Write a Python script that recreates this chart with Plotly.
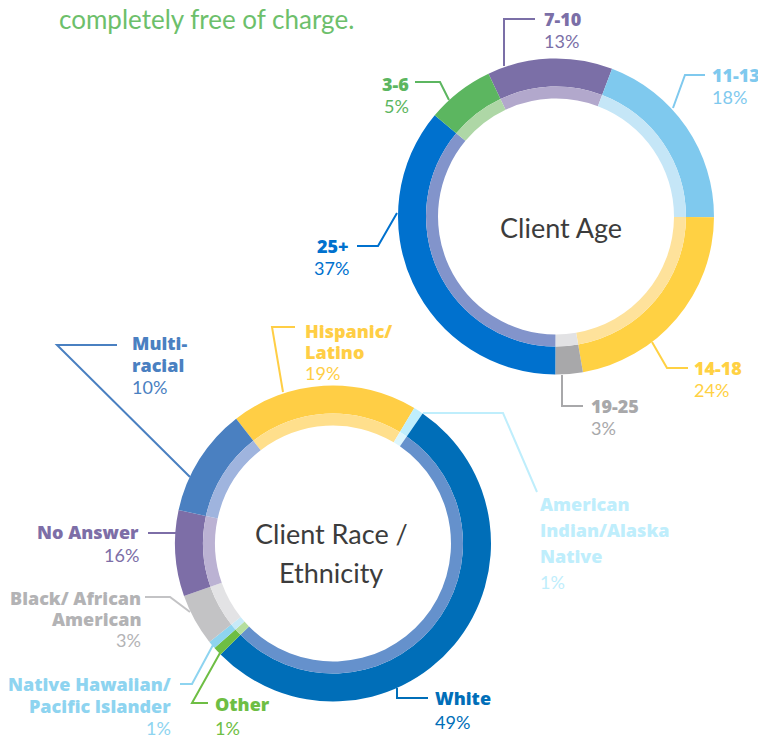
import plotly.graph_objects as go

W, H = 758, 735

# ---------------- data ----------------
age_labels = ["7-10", "11-13", "14-18", "19-25", "25+", "3-6"]
age_pct_text = ["13%", "18%", "24%", "3%", "37%", "5%"]
age_share = [12.8, 19.3, 22.2, 2.8, 36.0, 6.9]   # arc sizes as drawn
age_dark = ["#7B6FA7", "#7FC9EE", "#FFD143", "#A8A8AA", "#0071CE", "#5CB660"]
age_light = ["#B2A8CC", "#C5E6F7", "#FEE29B", "#E2E2E4", "#8294CB", "#AED7A6"]

race_labels = ["Hispanic/ Latino", "American Indian/Alaska Native", "White", "Other",
               "Native Hawaiian/ Pacific Islander", "Black/ African American",
               "No Answer", "Multi-racial"]
race_pct_text = ["19%", "1%", "49%", "1%", "1%", "3%", "16%", "10%"]
race_share = [19.1, 1.0, 53.0, 0.9, 0.8, 5.3, 8.8, 11.1]   # arc sizes as drawn
race_dark = ["#FFCE45", "#BFEEFC", "#006EB8", "#6EBE44", "#8ED4F0", "#C3C3C5", "#7D6EA7", "#4A80C1"]
race_light = ["#FFDF8C", "#DDF6FD", "#6591CC", "#B5DE9E", "#C7EAF8", "#E3E3E5", "#BBB2D3", "#9FB4DE"]

# ---------------- layout helpers ----------------
def px(x):
    return x / W

def py(y):
    return 1 - y / H

def dom(cx, cy, r):
    return dict(x=[px(cx - r), px(cx + r)], y=[py(cy + r), py(cy - r)])

R_OUT, R_MID, R_IN = 158, 130, 118

fig = go.Figure()

def donut(values, labels, dark, light, cx, cy, rot):
    fig.add_trace(go.Pie(values=values, labels=labels, sort=False, direction="clockwise",
                         rotation=rot, hole=R_MID / R_OUT, domain=dom(cx, cy, R_OUT),
                         marker=dict(colors=dark, line=dict(width=0)),
                         textinfo="none", hoverinfo="label", showlegend=False))
    fig.add_trace(go.Pie(values=values, labels=labels, sort=False, direction="clockwise",
                         rotation=rot, hole=R_IN / R_MID, domain=dom(cx, cy, R_MID),
                         marker=dict(colors=light, line=dict(width=0)),
                         textinfo="none", hoverinfo="label", showlegend=False))

donut(age_share, age_labels, age_dark, age_light, 556, 216.5, -25.3)
donut(race_share, race_labels, race_dark, race_light, 333, 543.5, -37.8)

shapes = []
annotations = []

def leader(points, color):
    d = "M " + " L ".join(f"{px(x):.5f},{py(y):.5f}" for x, y in points)
    shapes.append(dict(type="path", path=d, xref="paper", yref="paper",
                       line=dict(color=color, width=2)))

BOLD = dict(family="Open Sans, Lato, sans-serif", size=18, weight=800)
REG = dict(family="Lato, sans-serif", size=18)
CENTER = dict(family="Lato, sans-serif", size=27, color="#3C3C3C")

def text(x, y, s, color, font, anchor):
    f = dict(font)
    f["color"] = color
    annotations.append(dict(x=px(x), y=py(y), xref="paper", yref="paper", text=s,
                            showarrow=False, xanchor=anchor, yanchor="middle", font=f))

def label(x, y, name_lines, pct, color, anchor, gap=22, tcolor=None):
    tc = tcolor or color
    for i, ln in enumerate(name_lines):
        text(x, y + i * gap, ln, tc, BOLD, anchor)
    text(x, y + len(name_lines) * gap, pct, tc, REG, anchor)

# title text
annotations.append(dict(x=px(57), y=py(19), xref="paper", yref="paper",
                        text="completely free of charge.", showarrow=False,
                        xanchor="left", yanchor="middle",
                        font=dict(family="Lato, sans-serif", size=26, color="#6DBF6B")))

# centre titles
annotations.append(dict(x=px(561), y=py(227), xref="paper", yref="paper", text="Client Age",
                        showarrow=False, xanchor="center", yanchor="middle", font=CENTER))
annotations.append(dict(x=px(331), y=py(533), xref="paper", yref="paper", text="Client Race /",
                        showarrow=False, xanchor="center", yanchor="middle", font=CENTER))
annotations.append(dict(x=px(331), y=py(572), xref="paper", yref="paper", text="Ethnicity",
                        showarrow=False, xanchor="center", yanchor="middle", font=CENTER))

# ---- age labels ----
leader([(504, 66), (504, 19), (535, 19)], age_dark[0])
label(542, 19, [age_labels[0]], age_pct_text[0], age_dark[0], "left")

leader([(673, 108), (685, 75), (705, 75)], age_dark[1])
label(710, 75, [age_labels[1]], age_pct_text[1], age_dark[1], "left")

leader([(652, 342), (667, 368), (688, 368)], age_dark[2])
label(692, 368, [age_labels[2]], age_pct_text[2], age_dark[2], "left")

leader([(562, 375), (562, 406), (583, 406)], age_dark[3])
label(589, 406, [age_labels[3]], age_pct_text[3], age_dark[3], "left")

leader([(397, 213), (378, 246), (357, 246)], age_dark[4])
label(351, 246, [age_labels[4]], age_pct_text[4], age_dark[4], "right")

leader([(449, 100), (440, 82), (415, 82)], age_dark[5])
label(411, 84, [age_labels[5]], age_pct_text[5], age_dark[5], "right")

# ---- race labels ----
leader([(283, 392), (272, 327), (295, 327)], race_dark[0])
label(303, 331, ["Hispanic/", "Latino"], race_pct_text[0], race_dark[0], "left", gap=21)

leader([(423, 413), (503, 413), (537, 492)], race_dark[1])
label(538, 504, ["American", "Indian/Alaska", "Native"], race_pct_text[1], race_dark[1], "left", gap=26)

leader([(397, 688), (397, 698), (428, 698)], race_dark[2])
label(433, 698, ["White"], race_pct_text[2], race_dark[2], "left", gap=24)

leader([(220, 653), (192, 703), (208, 703)], race_dark[3])
label(213, 704, ["Other"], race_pct_text[3], race_dark[3], "left", gap=24)

leader([(213, 645), (192, 684), (180, 684)], race_dark[4])
label(173, 684, ["Native Hawaiian/", "Pacific Islander"], race_pct_text[4], race_dark[4], "right", gap=22)

leader([(190, 612), (170, 597), (145, 597)], race_dark[5])
label(143, 598, ["Black/ African", "American"], race_pct_text[5], race_dark[5], "right", gap=21,
      tcolor="#B3B3B5")

leader([(176, 533), (148, 533)], race_dark[6])
label(141, 532, ["No Answer"], race_pct_text[6], race_dark[6], "right", gap=23)

leader([(190, 477), (57, 345), (117, 345)], race_dark[7])
label(130, 343, ["Multi-", "racial"], race_pct_text[7], race_dark[7], "left", gap=22)

fig.update_layout(width=W, height=H, margin=dict(l=0, r=0, t=0, b=0),
                  paper_bgcolor="white", plot_bgcolor="white",
                  shapes=shapes, annotations=annotations, showlegend=False)

fig.write_html("out.html", config={"displayModeBar": False},
               post_script="document.body.style.margin='0';document.body.style.overflow='hidden';")
